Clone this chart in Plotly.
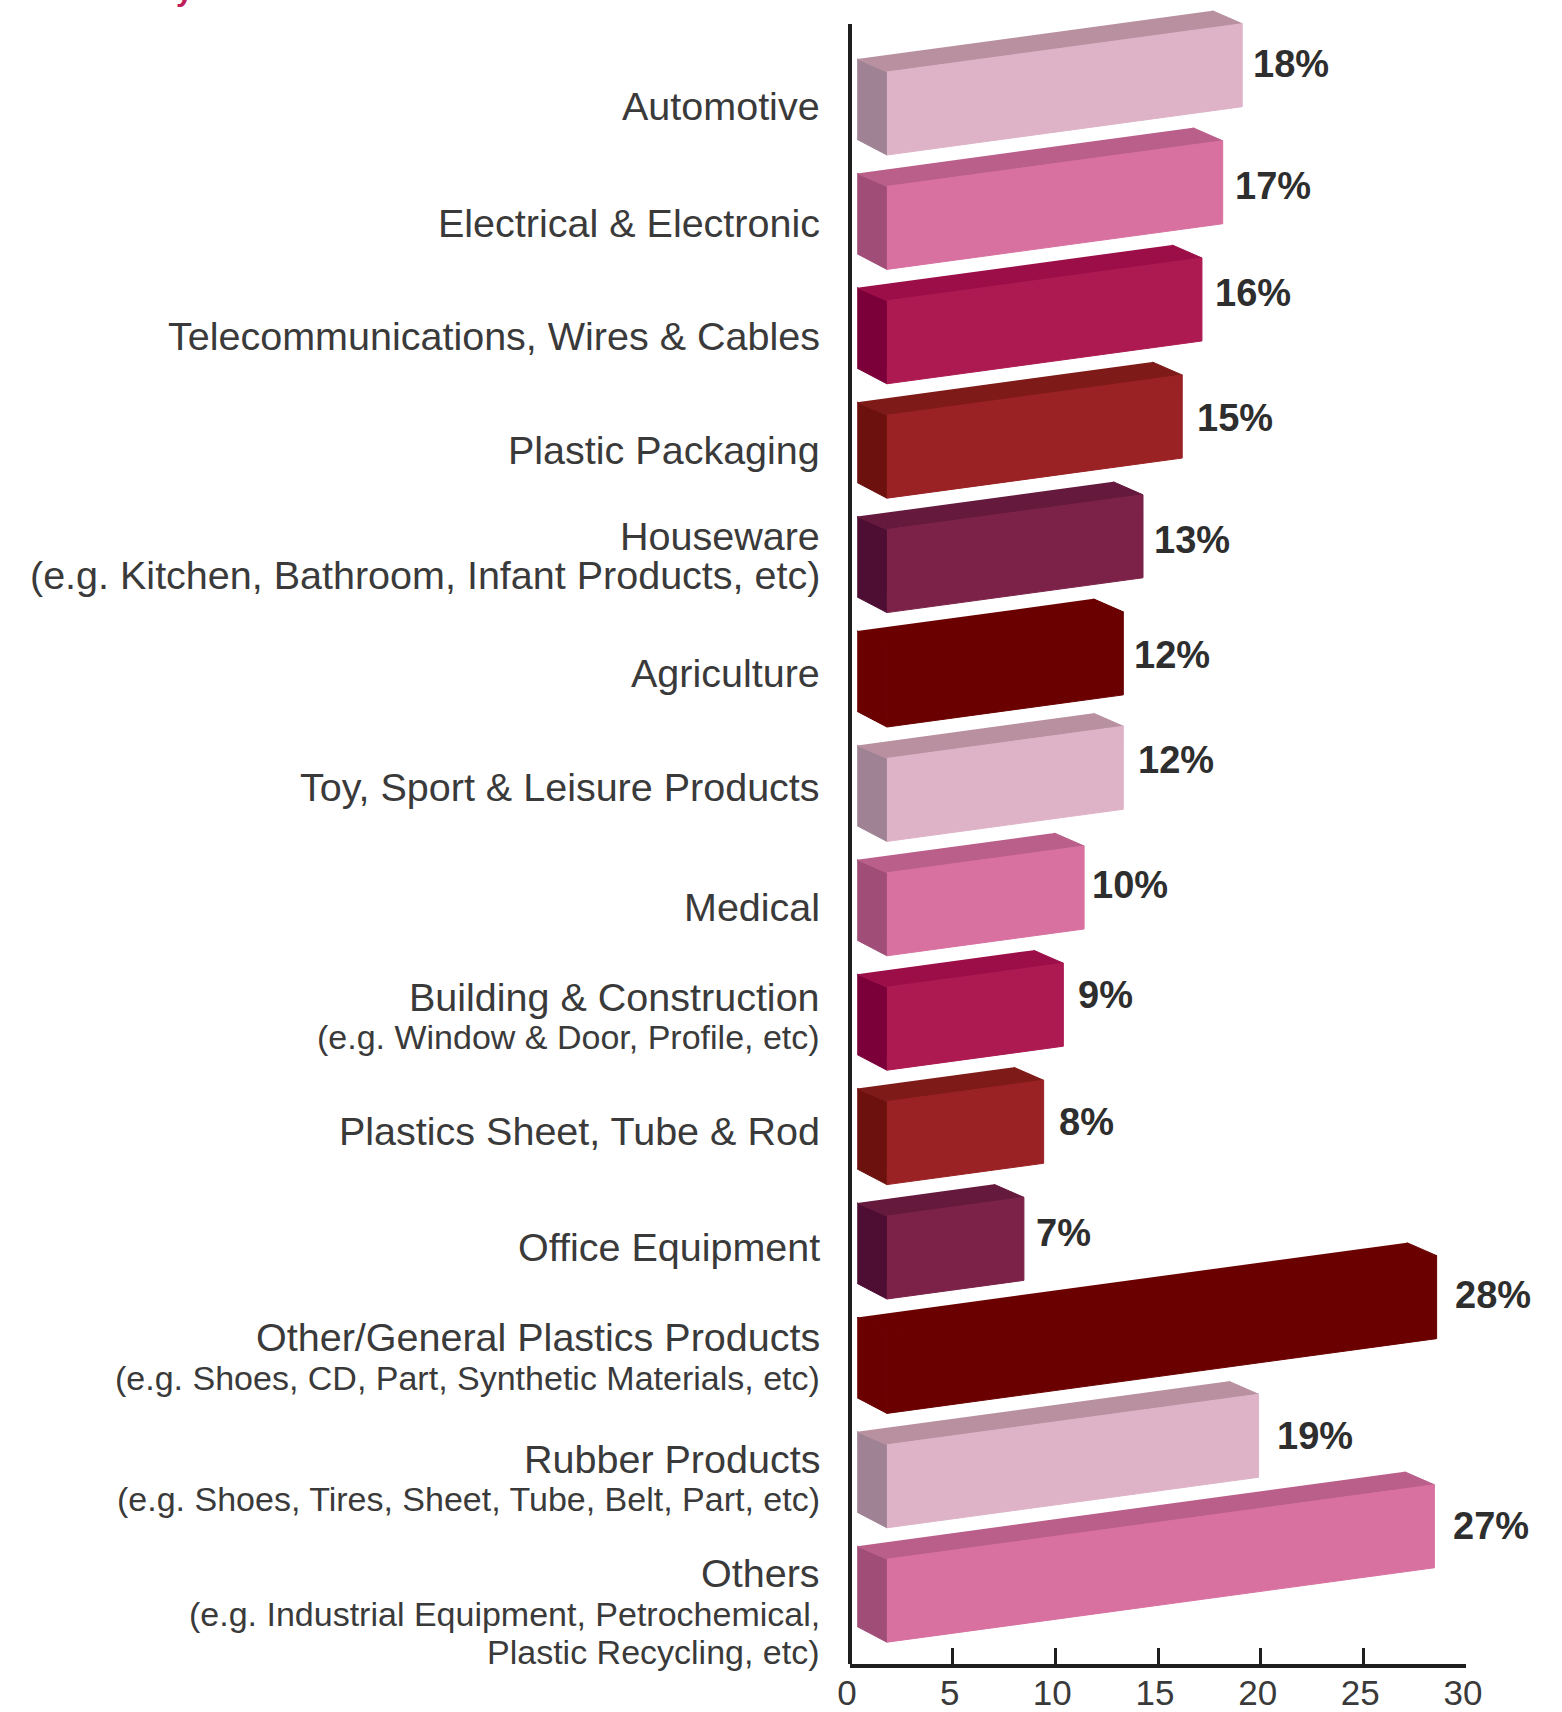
import plotly.graph_objects as go

# labels, one list of lines per bar
label_lines = [
    ["Automotive"],
    ["Electrical & Electronic"],
    ["Telecommunications, Wires & Cables"],
    ["Plastic Packaging"],
    ["Houseware", "(e.g. Kitchen, Bathroom, Infant Products, etc)"],
    ["Agriculture"],
    ["Toy, Sport & Leisure Products"],
    ["Medical"],
    ["Building & Construction", "(e.g. Window & Door, Profile, etc)"],
    ["Plastics Sheet, Tube & Rod"],
    ["Office Equipment"],
    ["Other/General Plastics Products", "(e.g. Shoes, CD, Part, Synthetic Materials, etc)"],
    ["Rubber Products", "(e.g. Shoes, Tires, Sheet, Tube, Belt, Part, etc)"],
    ["Others", "(e.g. Industrial Equipment, Petrochemical,", "Plastic Recycling, etc)"],
]
value_labels = [18, 17, 16, 15, 13, 12, 12, 10, 9, 8, 7, 28, 19, 27]
# where the front face of each bar ends on the axis (the 3D bars overshoot their label)
bar_ends = [19.1, 18.15, 17.14, 16.18, 14.27, 13.31, 13.31, 11.4, 10.39, 9.43, 8.47, 28.57, 19.9, 28.46]
x_ticks = [0, 5, 10, 15, 20, 25, 30]

# front, top, side colours
light = ("#DEB3C8", "#B8909F", "#9F8394")
pink = ("#D870A0", "#BA5F8A", "#A04E78")
crimson = ("#AD1A52", "#9C0E48", "#7B003A")
brick = ("#9A2124", "#7E1A17", "#6C110E")
plum = ("#7C2248", "#651A3D", "#4E0E33")
maroon = ("#6A0000", "#6A0000", "#6A0000")
palette = [light, pink, crimson, brick, plum, maroon, light, pink, crimson, brick, plum, maroon, light, pink]

# layout in pixels
WIDTH, HEIGHT = 1562, 1712
AX_L, AX_R, AX_T, AX_B = 850, 1466, 24, 1664
FIRST_BASE, SLOT = 155.0, 114.4
PX_X = (AX_R - AX_L) / 30.0


def slot(px):
    return (px - FIRST_BASE) / SLOT


# bar geometry
FRONT_X0 = 1.8       # front face start, axis units
DEPTH_X = 1.45       # back offset, axis units
DEPTH_Y = 13 / SLOT  # back offset, slots
BAR_H = 83 / SLOT
SLOPE = 0.136 * PX_X / SLOT  # slots per axis unit

# text offsets from bar base (px, up is positive)
label_shifts = [[49], [46], [48], [48], [77, 38], [54], [54], [49], [73, 33], [54], [52],
                [76, 35], [69, 29], [69, 28, -10]]
label_sizes = [[39.5], [39.5], [39.5], [39.5], [39.5, 39.5], [39.5], [39.5], [39.5], [39.5, 34], [39.5], [39.5],
               [39.5, 34], [39.5, 34], [39.5, 34, 34]]
value_shift_x = [9, 10, 11, 13, 9, 9, 13, 6, 13, 13, 10, 16, 16, 17]
value_shift_y = [91, 83, 91, 80, 73, 72, 81, 71, 75, 63, 66, 118, 92, 116]

fig = go.Figure()


def face(xs, ys, colour):
    fig.add_trace(go.Scatter(x=xs, y=ys, mode="lines", fill="toself", fillcolor=colour,
                             line=dict(width=1, color=colour), hoverinfo="skip", showlegend=False))


annotations = []
for i, end in enumerate(bar_ends):
    front, top, side = palette[i]
    rise = SLOPE * (end - FRONT_X0)
    # y of the four front corners, y axis is reversed
    bl, tl = i, i - BAR_H
    br, tr = i - rise, i - BAR_H - rise
    back_x0 = FRONT_X0 - DEPTH_X
    back_x1 = end - DEPTH_X
    face([back_x0, FRONT_X0, FRONT_X0, back_x0],
         [tl - DEPTH_Y, tl, bl, bl - 1.2 * DEPTH_Y], side)
    face([back_x0, FRONT_X0, end, back_x1],
         [tl - DEPTH_Y, tl, tr, tr - DEPTH_Y], top)
    face([FRONT_X0, end, end, FRONT_X0], [bl, br, tr, tl], front)

    for line, shift, size in zip(label_lines[i], label_shifts[i], label_sizes[i]):
        annotations.append(dict(x=(822 - AX_L) / (AX_R - AX_L), xref="paper", y=i, yref="y", text=line,
                                showarrow=False, xanchor="right", yanchor="middle",
                                yshift=shift, font=dict(size=size, color="#3A3A3A")))
    annotations.append(dict(x=end, y=i, xref="x", yref="y", text="<b>%d%%</b>" % value_labels[i],
                            showarrow=False, xanchor="left", yanchor="middle",
                            xshift=value_shift_x[i], yshift=value_shift_y[i],
                            font=dict(size=38, color="#2E2E2E")))

# tail of the cropped heading at the very top of the picture
annotations.append(dict(x=(184 - AX_L) / (AX_R - AX_L), xref="paper", y=1, yref="paper", text="<b>y</b>",
                        showarrow=False, xanchor="center", yanchor="bottom", yshift=-9,
                        font=dict(size=30, color="#BE1E5A")))

fig.update_layout(
    width=WIDTH, height=HEIGHT,
    margin=dict(l=AX_L, r=WIDTH - AX_R, t=0, b=HEIGHT - AX_B, pad=0, autoexpand=False),
    paper_bgcolor="white", plot_bgcolor="white",
    font=dict(family="Liberation Sans, Arial, sans-serif", color="#3A3A3A"),
    showlegend=False,
    annotations=annotations,
    # y axis line stops short of the plot top, the first bar pokes above it
    shapes=[dict(type="line", xref="paper", yref="y", x0=0, x1=0, y0=slot(AX_T), y1=slot(AX_B),
                 line=dict(color="#1E1E1E", width=4), layer="above")],
    xaxis=dict(range=[0, 30], tickvals=x_ticks, ticks="inside", ticklen=16, tickwidth=3,
               tickcolor="#1E1E1E", showline=True, linecolor="#1E1E1E", linewidth=4,
               showgrid=False, zeroline=False, tickfont=dict(size=35, color="#3A3A3A"),
               ticklabelstandoff=-5, ticklabelshift=-3),
    yaxis=dict(range=[slot(AX_B), slot(0)], showticklabels=False, ticks="",
               showline=False, showgrid=False, zeroline=False),
)

fig.write_html("out.html", config={"displayModeBar": False}, post_script="document.body.style.margin='0';")
